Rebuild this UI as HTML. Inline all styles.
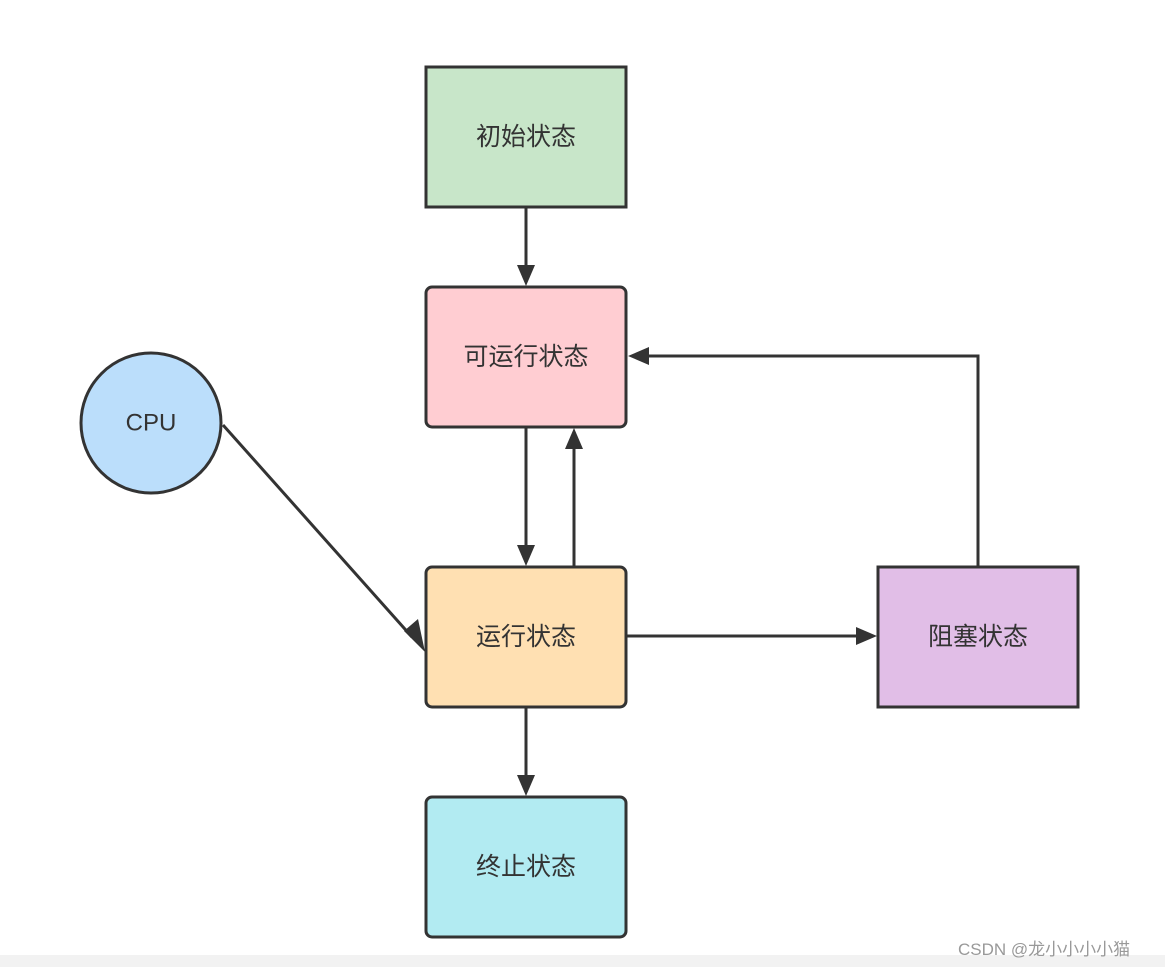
<!DOCTYPE html>
<html><head><meta charset="utf-8"><style>
html,body{margin:0;padding:0;background:#fff;width:1165px;height:967px;overflow:hidden}
svg{display:block}
text{font-family:"Liberation Sans","Noto Sans CJK SC",sans-serif;fill:#333}
</style></head><body>
<svg width="1165" height="967" viewBox="0 0 1165 967" xmlns="http://www.w3.org/2000/svg">
<rect x="0" y="955" width="1165" height="12" fill="#f2f2f2"/>
<g stroke="#333" stroke-width="3">
<rect x="426" y="67" width="200" height="140" fill="#c8e6c9"/>
<rect x="426" y="287" width="200" height="140" rx="6" fill="#ffcdd2"/>
<rect x="426" y="567" width="200" height="140" rx="6" fill="#ffe0b2"/>
<rect x="426" y="797" width="200" height="140" rx="6" fill="#b2ebf2"/>
<rect x="878" y="567" width="200" height="140" fill="#e1bee7"/>
<circle cx="151" cy="423" r="70" fill="#bbdefb"/>
<g fill="none">
<line x1="526" y1="208" x2="526" y2="266"/>
<line x1="526" y1="428" x2="526" y2="546"/>
<line x1="574" y1="566" x2="574" y2="448"/>
<line x1="526" y1="708" x2="526" y2="776"/>
<line x1="627" y1="636" x2="857" y2="636"/>
<polyline points="978,566 978,356 648,356"/>
<line x1="223" y1="425" x2="412" y2="637"/>
</g>
</g>
<g fill="#333">
<polygon points="517,265 535,265 526,286"/>
<polygon points="517,545 535,545 526,566"/>
<polygon points="565,449 583,449 574,428"/>
<polygon points="517,775 535,775 526,796"/>
<polygon points="856,627 856,645 877,636"/>
<polygon points="649,347 649,365 628,356"/>
<polygon points="404,631 418,619 425,652"/>
</g>
<g font-size="25" text-anchor="middle" dominant-baseline="central">
<text x="526" y="137">初始状态</text>
<text x="526" y="357">可运行状态</text>
<text x="526" y="637">运行状态</text>
<text x="526" y="867">终止状态</text>
<text x="978" y="637">阻塞状态</text>
<text x="151" y="423" font-size="24">CPU</text>
</g>
<text x="958" y="955" font-size="17" style="fill:#999">CSDN @龙小小小小猫</text>
</svg>
</body></html>
